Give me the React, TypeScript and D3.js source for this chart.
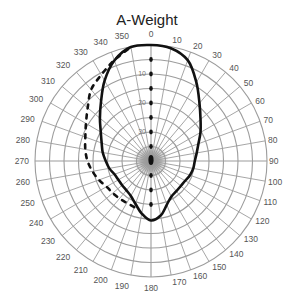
import * as React from 'react';
import * as d3 from 'd3';

// polar pattern, A-weighted, values in dB relative to on-axis
const angles = [0, 10, 20, 30, 40, 50, 60, 70, 80, 90, 100, 110, 120, 130, 140, 150, 160, 170,
  180, 190, 200, 210, 220, 230, 240, 250, 260, 270, 280, 290, 300, 310, 320, 330, 340, 350];
const solidDb = [0, -0.5, -3, -8.7, -14, -17.7, -20.3, -22.6, -24, -24.9, -25.2, -25.7, -26.4, -26.6,
  -26.4, -25.9, -24, -20.9, -19.5, -21.6, -24.3, -26.1, -26.8, -27, -27, -26.6, -25.4, -24.4,
  -23.1, -21.9, -20, -17, -13.2, -8, -3.1, -0.1];
const dashAngles = [200, 210, 220, 230, 240, 250, 260, 270, 280, 290, 300, 310, 320, 330, 340, 350];
const dashDb = [-23.1, -23.3, -23.1, -22.8, -22.3, -20.9, -19.5, -18.1, -17, -15.9, -14.1, -11.5,
  -7.9, -5.7, -3, -0.1];
const ringDb = [-35, -30, -25, -20, -15, -10, -5, 0];
const ringLabels = [10, 20, 30];
const dotsUp = [-35, -30, -25, -20, -15, -10, -5];
const dotsDown = [-35, -30, -25];
const tickAngles = d3.range(0, 360, 10);

const W = 284;
const H = 294;
const cx = 151;
const cy = 161;
const R = 116;

const App: React.FC = () => {
  const r = d3.scaleLinear().domain([-40, 0]).range([0, R]);
  const rad = (a: number) => (a * Math.PI) / 180;

  const solid = d3.lineRadial<number>()
    .angle((d, i) => rad(angles[i]))
    .radius((d) => r(d))
    .curve(d3.curveCatmullRomClosed);

  const dashed = d3.lineRadial<number>()
    .angle((d, i) => rad(dashAngles[i]))
    .radius((d) => r(d))
    .curve(d3.curveCatmullRom);

  const grid = '#9c9c9c';

  return (
    <svg width={W} height={H} style={{ position: 'absolute', left: 0, top: 0, background: '#fff' }}
      fontFamily="'Liberation Sans', Arial, sans-serif">
      <defs>
        <radialGradient id="hub">
          <stop offset="0%" stopColor="#777" />
          <stop offset="60%" stopColor="#bbb" />
          <stop offset="100%" stopColor="#e6e6e6" stopOpacity={0.3} />
        </radialGradient>
      </defs>
      <text x={147} y={25} textAnchor="middle" fontSize={15} fill="#222">A-Weight</text>
      <g transform={`translate(${cx},${cy})`}>
        <circle r={17} fill="url(#hub)" />
        {ringDb.map((d) => (
          <circle key={d} r={r(d)} fill="none" stroke={grid} strokeWidth={1.1} />
        ))}
        {tickAngles.map((a) => (
          <line key={a} x1={0} y1={0} x2={R * Math.sin(rad(a))} y2={-R * Math.cos(rad(a))}
            stroke={grid} strokeWidth={a % 90 === 0 ? 1.1 : 0.9} />
        ))}
        {tickAngles.map((a) => {
          const s = Math.sin(rad(a));
          const c = Math.cos(rad(a));
          // right-hand labels pulled in a little so they stay inside the frame
          const lr = (s > 0.15 ? 118 : 122) + 5 * Math.abs(c);
          const anchor = s > 0.15 ? 'start' : s < -0.15 ? 'end' : 'middle';
          return (
            <text key={a} x={lr * s} y={-lr * c} dy="0.35em" textAnchor={anchor}
              fontSize={8.5} fill="#555">{a}</text>
          );
        })}
        {ringLabels.map((v) => (
          <text key={v} x={-5} y={-r(-v)} dy="0.35em" textAnchor="end" fontSize={7} fill="#777">{v}</text>
        ))}
        {dotsUp.map((d) => (
          <ellipse key={'u' + d} cx={0} cy={-r(d)} rx={1.8} ry={2.4} fill="#111" />
        ))}
        {dotsDown.map((d) => (
          <ellipse key={'d' + d} cx={0} cy={r(d)} rx={1.8} ry={2.4} fill="#111" />
        ))}
        <ellipse cx={0} cy={-1} rx={2.6} ry={5} fill="#111" />
        <path d={dashed(dashDb) ?? ''} fill="none" stroke="#111" strokeWidth={2.6}
          strokeDasharray="4 6" strokeLinecap="round" />
        <path d={solid(solidDb) ?? ''} fill="none" stroke="#111" strokeWidth={2.6} />
      </g>
    </svg>
  );
};

export default App;
